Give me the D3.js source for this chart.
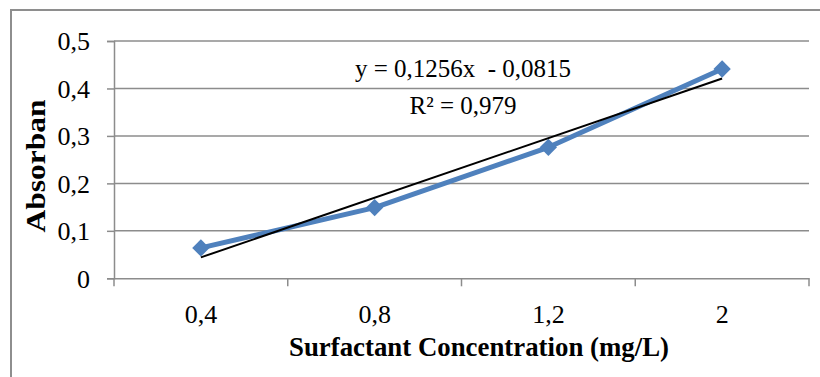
<!DOCTYPE html>
<html><head><meta charset="utf-8">
<script src="https://cdn.jsdelivr.net/npm/d3@7/dist/d3.min.js"></script>
<style>
html,body{margin:0;padding:0;background:#fff;}
svg{display:block;}
text{font-family:"Liberation Serif","Times New Roman",serif;fill:#000;}
</style></head>
<body>
<svg id="c" width="820" height="377"></svg>
<script>
const categories = ["0,4", "0,8", "1,2", "2"];
const absorbance = [0.064, 0.149, 0.276, 0.441];
const yTicks = [0, 0.1, 0.2, 0.3, 0.4, 0.5];
const trendSlope = 0.1256;
const trendIntercept = -0.0815;
const equationText = "y = 0,1256x  - 0,0815";
const r2Text = "R² = 0,979";
const xTitle = "Surfactant Concentration (mg/L)";
const yTitle = "Absorban";

const svg = d3.select("#c");
const blue = "#4f81bd";
const grid = "#8c8c8c";

// outer frame
svg.append("rect").attr("x", 11).attr("y", 10).attr("width", 830).attr("height", 400)
  .attr("fill", "none").attr("stroke", "#8e8e8e").attr("stroke-width", 2);

const x = d3.scaleBand().domain(categories).range([114, 809]).paddingInner(0).paddingOuter(0);
const y = d3.scaleLinear().domain([0, 0.5]).range([278.3, 41]);
const locale = d3.formatLocale({decimal: ",", thousands: ".", grouping: [3], currency: ["", ""]});
const fmt = locale.format("~g");

// gridlines
svg.append("g").selectAll("line").data(yTicks.filter(d => d > 0)).join("line")
  .attr("x1", 114).attr("x2", 809)
  .attr("y1", d => y(d)).attr("y2", d => y(d))
  .attr("stroke", grid).attr("stroke-width", 1.5);

// y axis
const yAxis = svg.append("g").attr("transform", "translate(114,0)")
  .call(d3.axisLeft(y).tickValues(yTicks).tickFormat(fmt).tickSize(7).tickPadding(17));
yAxis.select(".domain").attr("stroke", grid).attr("stroke-width", 1.5);
yAxis.selectAll(".tick line").attr("stroke", grid).attr("stroke-width", 1.5);
yAxis.selectAll(".tick text").attr("font-size", 26).attr("font-family", "Liberation Serif").attr("dy", "0.34em");

// x axis
const xAxis = svg.append("g").attr("transform", `translate(0,${y(0)})`)
  .call(d3.axisBottom(x).tickSize(0).tickPadding(26));
xAxis.select(".domain").attr("stroke", grid).attr("stroke-width", 1.5);
xAxis.selectAll(".tick text").attr("font-size", 26).attr("font-family", "Liberation Serif");
const boundaries = categories.map(c => x(c)).concat([x.range()[1]]);
xAxis.selectAll(".bt").data(boundaries).join("line").attr("class", "bt")
  .attr("x1", d => d).attr("x2", d => d).attr("y1", 0).attr("y2", 8)
  .attr("stroke", grid).attr("stroke-width", 1.5);

const cx = c => x(c) + x.bandwidth() / 2;

// series line
svg.append("path").datum(absorbance)
  .attr("d", d3.line().x((d, i) => cx(categories[i])).y(d => y(d)))
  .attr("fill", "none").attr("stroke", blue).attr("stroke-width", 5).attr("stroke-linejoin", "round");

// markers (square diamonds)
svg.append("g").selectAll("path").data(absorbance).join("path")
  .attr("transform", (d, i) => `translate(${cx(categories[i])},${y(d)}) rotate(45)`)
  .attr("d", d3.symbol(d3.symbolSquare, 150)())
  .attr("fill", blue);

// trendline
const tr = [1, categories.length];
svg.append("line")
  .attr("x1", cx(categories[0])).attr("y1", y(trendSlope * tr[0] + trendIntercept))
  .attr("x2", cx(categories[categories.length - 1])).attr("y2", y(trendSlope * tr[1] + trendIntercept))
  .attr("stroke", "#000").attr("stroke-width", 2);

// equation
svg.append("text").attr("x", 463).attr("y", 77).attr("text-anchor", "middle")
  .attr("font-size", 25).style("white-space", "pre").text(equationText);
svg.append("text").attr("x", 463).attr("y", 114).attr("text-anchor", "middle")
  .attr("font-size", 25).text(r2Text);

// axis titles
svg.append("text").attr("x", 479).attr("y", 356).attr("text-anchor", "middle")
  .attr("font-size", 27).attr("font-weight", "bold")
  .attr("textLength", 380).attr("lengthAdjust", "spacingAndGlyphs").text(xTitle);
svg.append("text").attr("transform", "translate(45,166) rotate(-90)").attr("text-anchor", "middle")
  .attr("font-size", 27).attr("font-weight", "bold")
  .attr("textLength", 133).attr("lengthAdjust", "spacingAndGlyphs").text(yTitle);
</script>
</body></html>
